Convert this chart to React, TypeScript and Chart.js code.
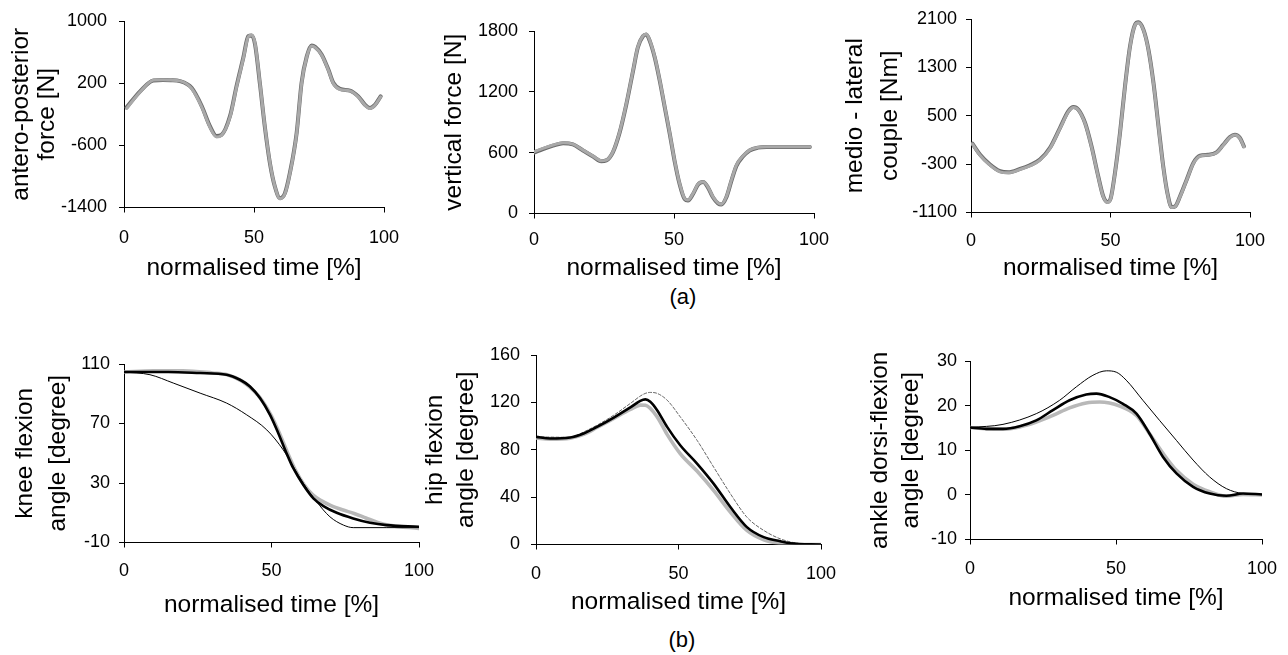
import React, { useEffect, useRef } from "react";
import { Chart, registerables } from "chart.js";

Chart.register(...registerables);

const FONT = "'Liberation Sans', Arial, Helvetica, sans-serif";

// ---------- (a) ground reaction data ----------
const xTicks = [0, 50, 100];

const apTicks = [-1400, -600, 200, 1000];
const apTime = [1, 6.2, 11.3, 15, 18, 21.5, 26, 29.9, 33, 35.6, 37.5, 40.8, 43.3, 45.9, 47.8, 49.1, 50.4, 52.3, 54.2, 56.2, 58.1, 60, 61.9, 63.8, 66.4, 68.3, 70.3, 72.2, 73.5, 76, 78.6, 80.5, 83.1, 86.9, 90.1, 92.7, 94.6, 96.5, 98.7];
const apForceGrey = [-126, 88, 239, 245, 240, 230, 132, -105, -363, -492, -470, -234, 152, 519, 797, 819, 712, 196, -363, -836, -1137, -1287, -1223, -965, -449, 196, 540, 677, 660, 561, 368, 196, 119, 101, 24, -84, -126, -84, 24];
const apForceDark = [-112, 95, 235, 240, 238, 226, 140, -95, -350, -480, -465, -220, 165, 530, 805, 815, 700, 185, -370, -845, -1140, -1280, -1215, -955, -440, 205, 545, 685, 668, 570, 375, 205, 125, 105, 30, -78, -120, -80, 30];

const vfTicks = [0, 600, 1200, 1800];
const vfTime = [0, 3.2, 6.8, 10.4, 13.9, 17.5, 21.1, 24, 25.8, 28.2, 30.6, 33, 35.4, 37.1, 38.9, 40.1, 41.3, 43.1, 44.9, 46.7, 48.5, 50.2, 52, 53.8, 55, 56.8, 58.6, 60.4, 62.1, 63.9, 65.7, 66.9, 68.7, 70.5, 72.3, 74.6, 77, 80, 83, 98.5];
const vfForceGrey = [609, 642, 675, 698, 684, 625, 566, 520, 526, 609, 806, 1086, 1415, 1645, 1751, 1770, 1711, 1547, 1316, 1053, 790, 526, 296, 148, 132, 197, 290, 313, 263, 165, 105, 92, 165, 329, 477, 566, 625, 652, 658, 658];
const vfForceDark = [600, 636, 670, 694, 682, 622, 562, 516, 524, 606, 800, 1080, 1410, 1640, 1748, 1765, 1705, 1540, 1310, 1046, 784, 520, 290, 142, 128, 192, 286, 310, 258, 160, 100, 88, 160, 322, 470, 562, 622, 650, 656, 656];

const mlTicks = [-1100, -300, 500, 1300, 2100];
const mlTime = [0.5, 3.2, 6.8, 10.4, 13.4, 17.6, 21.1, 24.7, 28.3, 31.9, 34.9, 36.7, 38.5, 40.9, 43.2, 45.6, 47.4, 48.9, 50.1, 51.6, 53.4, 55.2, 57, 58.8, 60, 61.8, 63.6, 65.4, 67.2, 68.9, 70.4, 71.9, 73.1, 74.9, 77.3, 79.7, 82.1, 85, 88, 90.4, 92.8, 94.6, 96.4, 97.8];
const mlCoupleGrey = [31, -151, -317, -427, -443, -388, -328, -234, -41, 290, 566, 638, 594, 373, -13, -510, -841, -934, -868, -454, 208, 980, 1642, 2001, 2040, 1918, 1587, 1035, 318, -344, -786, -1017, -1006, -841, -565, -289, -168, -151, -112, 14, 141, 180, 125, -13];
const mlCoupleDark = [40, -140, -305, -415, -435, -380, -318, -225, -30, 300, 575, 645, 600, 380, -5, -500, -832, -925, -860, -445, 215, 990, 1650, 2008, 2046, 1925, 1595, 1045, 328, -335, -778, -1010, -1000, -835, -558, -280, -160, -145, -105, 20, 148, 186, 132, -5];

// ---------- (b) joint angle data ----------
const kneeTicks = [-10, 30, 70, 110];
const kneeThickTime = [0, 15, 25.8, 34.8, 39.3, 42.7, 46.1, 49.5, 52.3, 55.1, 57.4, 60.8, 64.2, 67.6, 72.1, 77.7, 83.4, 89, 100];
const kneeThick = [104.6, 104.6, 103.9, 102.8, 99.4, 94.9, 87.1, 75.8, 63.5, 50, 39.9, 28.7, 19.7, 14.5, 10, 6.2, 3.3, 1.7, 0.6];
const kneeGreyTime = [0, 10, 20, 30, 35, 40, 44, 47, 50, 53, 55.5, 58, 61, 64, 67, 70, 74, 78, 82, 86, 90, 100];
const kneeGrey = [104.6, 105.5, 105.5, 104, 102.8, 98.5, 92, 85, 75, 62, 50, 39, 29, 22, 18, 15, 12, 9.5, 6.5, 3.5, 1.5, -0.5];
const kneeThinTime = [0, 8.8, 16.7, 25.8, 34.8, 41.6, 48.4, 54, 57.4, 60.8, 65.3, 69.8, 74.4, 77.7, 100];
const kneeThin = [104.6, 102.8, 97.2, 90.4, 83.7, 75.8, 65.7, 52.2, 41, 29.8, 17.4, 7.3, 1.7, 0, 0];

const hipTicks = [0, 40, 80, 120, 160];
const hipThickTime = [0, 5, 12, 16.7, 21.4, 27.3, 33.1, 36.6, 38.4, 40.1, 42.5, 46, 50.6, 56.5, 62.3, 68.2, 74, 79.9, 85.7, 89.2, 100];
const hipThick = [90.9, 89.5, 90.3, 93.7, 99.3, 107.2, 115.7, 121.3, 122.5, 120.5, 113.4, 99.3, 83.8, 68.3, 51.4, 31.6, 14.7, 6.2, 2.8, 1.1, 0];
const hipGreyTime = [0, 5, 12, 16.7, 21.4, 27.3, 33.1, 36.6, 38.4, 42.5, 46, 50.6, 56.5, 62.3, 68.2, 74, 79.9, 86.9, 92, 100];
const hipGrey = [90, 89, 89.8, 93, 98.8, 106.5, 114, 117.7, 117.5, 107.8, 93, 76.8, 62, 45.7, 27.4, 11.9, 4, 0.6, 0, 0];
const hipThinTime = [0, 12, 16.7, 21.4, 27.3, 33.1, 37.8, 40.1, 42.5, 46, 50.6, 56.5, 62.3, 68.2, 74, 79.9, 85.7, 91.6, 100];
const hipThin = [90.9, 90.5, 95, 100.7, 109.2, 119.1, 127, 128.4, 127.6, 121.9, 107.8, 88, 65.5, 42.9, 23.1, 11.9, 4.8, 1.1, 0];

const ankleTicks = [-10, 0, 10, 20, 30];
const ankleThickTime = [0, 5.6, 11.3, 17, 22.7, 28.4, 34.1, 39.8, 43.3, 47.8, 52.4, 57, 61.5, 66.1, 70.7, 76.4, 82.1, 87.8, 93.5, 100];
const ankleThick = [15.1, 14.8, 14.8, 15.4, 16.7, 19, 21.2, 22.5, 22.7, 21.9, 20.4, 18.2, 13.7, 8.5, 4.8, 1.8, 0.3, -0.2, 0.3, 0.1];
const ankleGreyTime = [0, 5.6, 11.3, 17, 22.7, 28.4, 34.1, 39.8, 44.4, 51.3, 57, 61.5, 66.1, 70.7, 76.4, 82.1, 87.8, 93.5, 100];
const ankleGrey = [15.1, 14.8, 14.7, 15.2, 16.3, 17.8, 19.5, 20.6, 20.8, 19.9, 17.8, 13.7, 9.3, 5.5, 2.4, 0.7, -0.3, 0.1, 0];
const ankleThinTime = [0, 11.3, 22.7, 30.7, 36.4, 42.1, 46.7, 50.1, 53.5, 59.2, 64.9, 70.7, 76.4, 82.1, 87.8, 93.5, 100];
const ankleThin = [15.1, 15.8, 18.2, 21.2, 24.2, 26.8, 27.8, 27.5, 25.7, 21.2, 16.7, 12.2, 7.8, 4, 1.4, 0.3, 0.1];

// ---------- styles ----------
const GREY_TOP = { color: "#a9a9a9", width: 3, order: 0 };
const DARK_TOP = { color: "#6a6a6a", width: 4, order: 1 };
const THICK = { color: "#000000", width: 2.6, order: 0 };
const GREY_B = { color: "#b8b8b8", width: 3.6, order: 2 };
const THIN = { color: "#000000", width: 1, order: 1 };
const THIN_DOT = { color: "#555555", width: 0.9, order: 1, dash: [3, 2] };

const PAD_TOP = 26;
const PAD_RIGHT = 34;
const TITLE_SIZE = 24.5;
const X_TITLE_LH = 25;

type Series = { t: number[]; v: number[]; label: string; style: any };
type PanelCfg = {
  L: number; R: number; T: number; B: number;
  yTitleCenter: number; yTitleLH: number; xTickPad: number; xTitleOff: number; yTickPad: number;
  yTitle: string | string[]; yTicks: number[]; series: Series[];
};

const panels: PanelCfg[] = [
  { L: 124, R: 384, T: 21, B: 207, yTitleCenter: 20.5, yTitleLH: 26, xTickPad: 15, xTitleOff: 61, yTickPad: 12,
    yTitle: ["antero-posterior", "force [N]"], yTicks: apTicks,
    series: [
      { t: apTime, v: apForceDark, label: "model", style: DARK_TOP },
      { t: apTime, v: apForceGrey, label: "measured", style: GREY_TOP },
    ] },
  { L: 534, R: 814, T: 31, B: 213, yTitleCenter: 453.5, yTitleLH: 26, xTickPad: 11, xTitleOff: 55, yTickPad: 11,
    yTitle: "vertical force [N]", yTicks: vfTicks,
    series: [
      { t: vfTime, v: vfForceDark, label: "model", style: DARK_TOP },
      { t: vfTime, v: vfForceGrey, label: "measured", style: GREY_TOP },
    ] },
  { L: 971, R: 1250, T: 19, B: 212, yTitleCenter: 855, yTitleLH: 35, xTickPad: 13, xTitleOff: 56, yTickPad: 9,
    yTitle: ["medio - lateral", "couple [Nm]"], yTicks: mlTicks,
    series: [
      { t: mlTime, v: mlCoupleDark, label: "model", style: DARK_TOP },
      { t: mlTime, v: mlCoupleGrey, label: "measured", style: GREY_TOP },
    ] },
  { L: 124, R: 419, T: 364, B: 542, yTitleCenter: 25.5, yTitleLH: 33, xTickPad: 13, xTitleOff: 63, yTickPad: 9,
    yTitle: ["knee flexion", "angle [degree]"], yTicks: kneeTicks,
    series: [
      { t: kneeGreyTime, v: kneeGrey, label: "measured", style: GREY_B },
      { t: kneeThinTime, v: kneeThin, label: "model B", style: THIN },
      { t: kneeThickTime, v: kneeThick, label: "model A", style: THICK },
    ] },
  { L: 536, R: 821, T: 355, B: 544, yTitleCenter: 435.5, yTitleLH: 31, xTickPad: 14, xTitleOff: 58, yTickPad: 11,
    yTitle: ["hip flexion", "angle [degree]"], yTicks: hipTicks,
    series: [
      { t: hipGreyTime, v: hipGrey, label: "measured", style: GREY_B },
      { t: hipThinTime, v: hipThin, label: "model B", style: THIN_DOT },
      { t: hipThickTime, v: hipThick, label: "model A", style: THICK },
    ] },
  { L: 970, R: 1262, T: 361, B: 539, yTitleCenter: 880.5, yTitleLH: 31, xTickPad: 14, xTitleOff: 59, yTickPad: 8,
    yTitle: ["ankle dorsi-flexion", "angle [degree]"], yTicks: ankleTicks,
    series: [
      { t: ankleGreyTime, v: ankleGrey, label: "measured", style: GREY_B },
      { t: ankleThinTime, v: ankleThin, label: "model B", style: THIN },
      { t: ankleThickTime, v: ankleThick, label: "model A", style: THICK },
    ] },
];

function geometry(cfg: PanelCfg) {
  const left = Math.round(cfg.yTitleCenter - cfg.yTitleLH / 2);
  const top = cfg.T - PAD_TOP;
  const w = cfg.R + PAD_RIGHT - left;
  const yW = cfg.L - left;
  const xH = cfg.xTitleOff + X_TITLE_LH / 2;
  const h = Math.round(PAD_TOP + (cfg.B - cfg.T) + xH);
  return { left, top, w, h, yW, xH };
}

function Panel({ cfg }: { cfg: PanelCfg }) {
  const ref = useRef<HTMLCanvasElement | null>(null);
  const g = geometry(cfg);
  useEffect(() => {
    if (!ref.current) return;
    const yt = cfg.yTicks;
    const chart = new Chart(ref.current, {
      type: "line",
      data: {
        datasets: cfg.series.map((s) => ({
          label: s.label,
          data: s.t.map((x, i) => ({ x, y: s.v[i] })),
          borderColor: s.style.color,
          borderWidth: s.style.width,
          borderDash: s.style.dash || [],
          order: s.style.order,
          pointRadius: 0,
          fill: false,
          cubicInterpolationMode: "monotone",
          borderCapStyle: "round",
          borderJoinStyle: "round",
        })),
      },
      options: {
        responsive: false,
        animation: false,
        devicePixelRatio: 1,
        layout: { padding: { top: PAD_TOP, right: PAD_RIGHT, left: 0, bottom: 0 } },
        plugins: { legend: { display: false }, tooltip: { enabled: false } },
        scales: {
          x: {
            type: "linear",
            min: xTicks[0],
            max: xTicks[xTicks.length - 1],
            ticks: {
              stepSize: xTicks[1] - xTicks[0],
              padding: cfg.xTickPad,
              color: "#000",
              font: { size: 18, family: FONT, lineHeight: 1.2 },
              maxRotation: 0,
              autoSkip: false,
              callback: (v: any) => String(v),
            },
            grid: { drawOnChartArea: false, drawTicks: true, tickLength: 5, color: "#000", lineWidth: 1 },
            border: { display: true, color: "#000", width: 1 },
            title: {
              display: true,
              text: "normalised time [%]",
              color: "#000",
              font: { size: TITLE_SIZE, family: FONT, lineHeight: `${X_TITLE_LH}px` },
              padding: 0,
            },
            afterFit: (s: any) => { s.height = g.xH; },
          },
          y: {
            type: "linear",
            min: yt[0],
            max: yt[yt.length - 1],
            ticks: {
              stepSize: yt[1] - yt[0],
              padding: cfg.yTickPad,
              color: "#000",
              font: { size: 18, family: FONT, lineHeight: 1.2 },
              autoSkip: false,
              callback: (v: any) => String(v),
            },
            grid: { drawOnChartArea: false, drawTicks: true, tickLength: 5, color: "#000", lineWidth: 1 },
            border: { display: true, color: "#000", width: 1 },
            title: {
              display: true,
              text: cfg.yTitle,
              color: "#000",
              font: { size: TITLE_SIZE, family: FONT, lineHeight: `${cfg.yTitleLH}px` },
              padding: 0,
            },
            afterFit: (s: any) => { s.width = g.yW; },
          },
        },
      },
    } as any);
    return () => chart.destroy();
  }, [cfg]);
  return (
    <canvas
      ref={ref}
      width={g.w}
      height={g.h}
      style={{ position: "absolute", left: g.left, top: g.top, width: g.w, height: g.h }}
    />
  );
}

const captionStyle: React.CSSProperties = {
  position: "absolute",
  width: 100,
  textAlign: "center",
  fontFamily: FONT,
  fontSize: 22,
  lineHeight: "24px",
  color: "#000",
};

export default function App() {
  return (
    <div style={{ position: "absolute", left: 0, top: 0, width: 1288, height: 655, background: "#fff", overflow: "hidden" }}>
      {panels.map((p, i) => (
        <Panel key={i} cfg={p} />
      ))}
      <div style={{ ...captionStyle, left: 633, top: 285 }}>(a)</div>
      <div style={{ ...captionStyle, left: 632, top: 628 }}>(b)</div>
    </div>
  );
}
